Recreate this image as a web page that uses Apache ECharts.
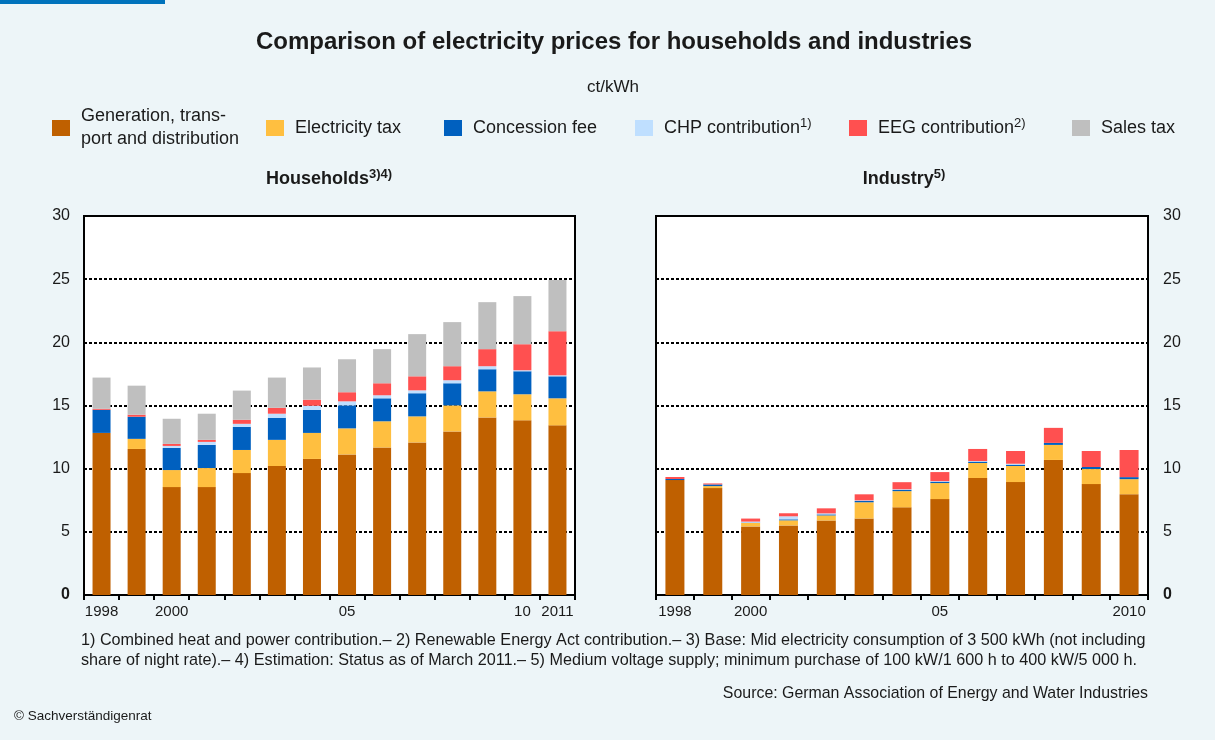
<!DOCTYPE html>
<html>
<head>
<meta charset="utf-8">
<script src="https://cdn.jsdelivr.net/npm/echarts@6/dist/echarts.min.js"></script>
<style>
  html, body { margin: 0; padding: 0; background: #edf5f8; }
  #chart-container { width: 1215px; height: 740px; }
</style>
</head>
<body>
<div id="chart-container"></div>
<script>
// categories
const houseYears = ['1998', '1999', '2000', '2001', '2002', '2003', '2004', '2005', '2006', '2007', '2008', '2009', '2010', '2011'];
const industryYears = ['1998', '1999', '2000', '2001', '2002', '2003', '2004', '2005', '2006', '2007', '2008', '2009', '2010'];
const houseTickLabels = ['1998', '', '2000', '', '', '', '', '05', '', '', '', '', '10', '2011'];
const industryTickLabels = ['1998', '', '2000', '', '', '', '', '05', '', '', '', '', '2010'];

// households, ct/kWh
const houseGeneration = [12.83, 11.56, 8.54, 8.54, 9.65, 10.21, 10.77, 11.13, 11.68, 12.08, 12.95, 14.06, 13.83, 13.43];
const houseElecTax = [0, 0.80, 1.35, 1.51, 1.83, 2.07, 2.06, 2.06, 2.07, 2.06, 2.06, 2.06, 2.06, 2.14];
const houseConcession = [1.83, 1.75, 1.75, 1.83, 1.83, 1.75, 1.83, 1.82, 1.82, 1.83, 1.75, 1.75, 1.82, 1.74];
const houseChp = [0, 0, 0.16, 0.24, 0.24, 0.32, 0.32, 0.32, 0.24, 0.23, 0.24, 0.24, 0.08, 0.08];
const houseEeg = [0.08, 0.16, 0.16, 0.16, 0.32, 0.47, 0.48, 0.72, 0.95, 1.11, 1.11, 1.35, 2.06, 3.49];
const houseSalesTax = [2.47, 2.30, 1.99, 2.07, 2.31, 2.39, 2.55, 2.61, 2.70, 3.34, 3.49, 3.72, 3.81, 4.05];

// industry, ct/kWh
const indGeneration = [9.10, 8.46, 5.43, 5.51, 5.90, 6.06, 6.94, 7.59, 9.26, 8.94, 10.69, 8.78, 7.98];
const indElecTax = [0, 0.16, 0.27, 0.40, 0.40, 1.28, 1.28, 1.27, 1.19, 1.27, 1.19, 1.19, 1.19];
const indConcession = [0.08, 0.13, 0.03, 0.08, 0.08, 0.10, 0.10, 0.10, 0.10, 0.10, 0.16, 0.16, 0.16];
const indChp = [0, 0, 0.08, 0.24, 0.08, 0.05, 0.05, 0.05, 0.05, 0.08, 0, 0, 0];
const indEeg = [0.16, 0.08, 0.24, 0.24, 0.40, 0.48, 0.56, 0.72, 0.96, 1.01, 1.19, 1.27, 2.15];
const indSalesTax = [0, 0, 0, 0, 0, 0, 0, 0, 0, 0, 0, 0, 0];

const FONT = '"Liberation Sans", Arial, sans-serif';
const TEXT = '#1a1a1a';

const components = [
    { name: 'Generation, transport and distribution', label: 'Generation, trans-\nport and distribution', color: '#bf6000', house: houseGeneration, ind: indGeneration, left: 52 },
    { name: 'Electricity tax', label: 'Electricity tax', color: '#ffbf40', house: houseElecTax, ind: indElecTax, left: 266 },
    { name: 'Concession fee', label: 'Concession fee', color: '#0060bf', house: houseConcession, ind: indConcession, left: 444 },
    { name: 'CHP contribution', label: 'CHP contribution{s|1)}', color: '#bfdfff', house: houseChp, ind: indChp, left: 635 },
    { name: 'EEG contribution', label: 'EEG contribution{s|2)}', color: '#ff5050', house: houseEeg, ind: indEeg, left: 849 },
    { name: 'Sales tax', label: 'Sales tax', color: '#bfbfbf', house: houseSalesTax, ind: indSalesTax, left: 1072 },
];

const chart = echarts.init(document.getElementById('chart-container'));

const supRich = { s: { fontSize: 13, fontFamily: FONT, color: TEXT, verticalAlign: 'top', lineHeight: 13 } };

// one legend per item so each sits where it does in the original
const legends = components.map(c => ({
    data: [c.name],
    left: c.left,
    top: c.label.indexOf('\n') >= 0 ? 105 : 116.5,
    padding: 0,
    itemWidth: 18,
    itemHeight: 16,
    icon: 'rect',
    selectedMode: false,
    formatter: () => c.label,
    textStyle: {
        fontFamily: FONT, fontSize: 18, color: TEXT, lineHeight: 23,
        padding: [0, 0, 0, 6],
        rich: supRich,
    },
}));

const makeXAxis = (gridIndex, years, tickLabels) => ({
    type: 'category',
    gridIndex,
    data: years,
    axisLine: { show: true, lineStyle: { color: '#000', width: 2 } },
    axisTick: { show: true, interval: 0, length: 5, lineStyle: { color: '#000', width: 2 } },
    axisLabel: {
        interval: 0, margin: 9, fontFamily: FONT, fontSize: 15, color: TEXT,
        formatter: (v, i) => tickLabels[i],
    },
    splitLine: { show: false },
});

const makeYAxis = (gridIndex, position, margin) => ({
    type: 'value',
    gridIndex,
    position,
    min: 0,
    max: 30,
    interval: 5,
    axisLine: { show: false },
    axisTick: { show: false },
    axisLabel: {
        margin, fontFamily: FONT, fontSize: 16, color: TEXT,
        formatter: v => (v === 0 ? '{b|0}' : String(v)),
        rich: { b: { fontWeight: 'bold', fontFamily: FONT, fontSize: 16, color: TEXT } },
    },
    splitLine: { show: true, lineStyle: { color: '#000', type: [3, 2], width: 2 } },
});

const series = [];
components.forEach(c => {
    series.push({
        name: c.name, type: 'bar', stack: 'house', xAxisIndex: 0, yAxisIndex: 0,
        barWidth: 18, itemStyle: { color: c.color }, data: c.house,
    });
});
components.forEach(c => {
    series.push({
        name: c.name, type: 'bar', stack: 'industry', xAxisIndex: 1, yAxisIndex: 1,
        barWidth: 19, itemStyle: { color: c.color }, data: c.ind,
    });
});

const subRich = { b: { fontFamily: FONT, fontSize: 18, fontWeight: 'bold', color: TEXT, lineHeight: 22 }, s: supRich.s };

const option = {
    backgroundColor: '#edf5f8',
    animation: false,
    title: [
        {
            text: 'Comparison of electricity prices for households and industries',
            left: 614, top: 42, textAlign: 'center', textVerticalAlign: 'middle', padding: 0,
            textStyle: { fontFamily: FONT, fontSize: 24, fontWeight: 'bold', color: TEXT },
        },
        {
            text: 'ct/kWh',
            left: 613, top: 87, textAlign: 'center', textVerticalAlign: 'middle', padding: 0,
            textStyle: { fontFamily: FONT, fontSize: 17, fontWeight: 'normal', color: TEXT },
        },
        {
            text: '{b|Households}{s|3)4)}',
            left: 329, top: 179, textAlign: 'center', textVerticalAlign: 'middle', padding: 0,
            textStyle: { rich: subRich },
        },
        {
            text: '{b|Industry}{s|5)}',
            left: 904, top: 179, textAlign: 'center', textVerticalAlign: 'middle', padding: 0,
            textStyle: { rich: subRich },
        },
        {
            text: '1) Combined heat and power contribution.\u2013 2) Renewable Energy Act contribution.\u2013 3) Base: Mid electricity consumption of 3 500 kWh (not including\nshare of night rate).\u2013 4) Estimation: Status as of March 2011.\u2013 5) Medium voltage supply; minimum purchase of 100 kW/1 600 h to 400 kW/5 000 h.',
            left: 81, top: 631, padding: 0,
            textStyle: { fontFamily: FONT, fontSize: 16.2, fontWeight: 'normal', color: TEXT, lineHeight: 20 },
        },
        {
            text: 'Source: German Association of Energy and Water Industries',
            left: 1148, top: 694, textAlign: 'right', textVerticalAlign: 'middle', padding: 0,
            textStyle: { fontFamily: FONT, fontSize: 15.9, fontWeight: 'normal', color: TEXT },
        },
        {
            text: '\u00a9 Sachverst\u00e4ndigenrat',
            left: 14, top: 716, textVerticalAlign: 'middle', padding: 0,
            textStyle: { fontFamily: FONT, fontSize: 13.5, fontWeight: 'normal', color: TEXT },
        },
    ],
    legend: legends,
    grid: [
        { left: 84, right: 640, top: 216, bottom: 145, show: true, backgroundColor: '#fff', borderColor: '#000', borderWidth: 2, containLabel: false },
        { left: 656, right: 67, top: 216, bottom: 145, show: true, backgroundColor: '#fff', borderColor: '#000', borderWidth: 2, containLabel: false },
    ],
    xAxis: [
        makeXAxis(0, houseYears, houseTickLabels),
        makeXAxis(1, industryYears, industryTickLabels),
    ],
    yAxis: [
        makeYAxis(0, 'left', 14),
        makeYAxis(1, 'right', 15),
    ],
    graphic: [
        { type: 'rect', left: 0, top: 0, shape: { width: 165, height: 4 }, style: { fill: '#0072bc' } },
    ],
    series,
};

chart.setOption(option);
</script>
</body>
</html>
